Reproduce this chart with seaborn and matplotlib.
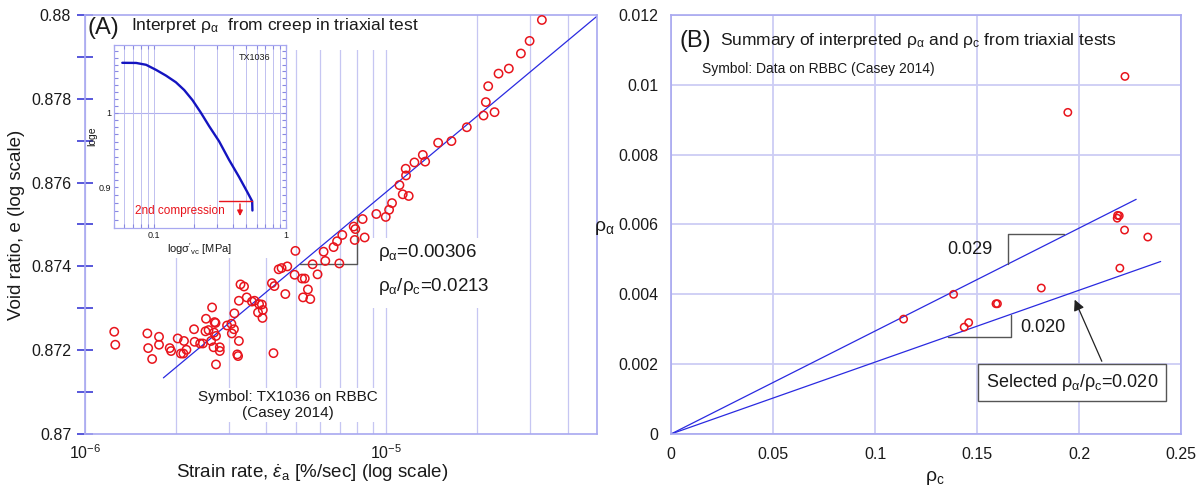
import seaborn as sns
import matplotlib.pyplot as plt
from matplotlib.patches import Rectangle
from matplotlib.ticker import AutoMinorLocator, NullFormatter, FixedLocator

# ---- panel A: void ratio vs strain rate (TX1036) ----
strain_rate = [
    1.25e-6, 1.26e-6, 1.61e-6, 1.62e-6, 1.67e-6, 1.76e-6, 1.76e-6, 1.91e-6, 1.93e-6, 2.03e-6,
    2.08e-6, 2.12e-6, 2.13e-6, 2.17e-6, 2.30e-6, 2.31e-6, 2.41e-6, 2.46e-6, 2.52e-6, 2.51e-6,
    2.57e-6, 2.64e-6, 2.62e-6, 2.69e-6, 2.71e-6, 2.68e-6, 2.72e-6, 2.67e-6, 2.80e-6, 2.80e-6,
    2.72e-6, 2.96e-6, 3.06e-6, 3.07e-6, 3.12e-6, 3.13e-6, 3.24e-6, 3.20e-6, 3.22e-6, 3.24e-6,
    3.28e-6, 3.37e-6, 3.44e-6, 3.58e-6, 3.65e-6, 3.75e-6, 3.78e-6, 3.86e-6, 3.89e-6, 3.88e-6,
    4.17e-6, 4.25e-6, 4.22e-6, 4.39e-6, 4.49e-6, 4.69e-6, 4.62e-6, 4.96e-6, 5.25e-6, 5.36e-6,
    5.49e-6, 5.29e-6, 5.59e-6, 4.99e-6, 5.69e-6, 5.91e-6, 6.27e-6, 6.19e-6, 6.98e-6, 6.68e-6,
    6.86e-6, 7.14e-6, 7.79e-6, 7.89e-6, 7.85e-6, 8.47e-6, 8.34e-6, 9.26e-6, 9.95e-6, 1.021e-5,
    1.044e-5, 1.105e-5, 1.133e-5, 1.186e-5, 1.159e-5, 1.162e-5, 1.239e-5, 1.321e-5, 1.345e-5, 1.485e-5,
    1.644e-5, 1.849e-5, 2.101e-5, 2.285e-5, 2.138e-5, 2.177e-5, 2.356e-5, 2.549e-5, 2.795e-5, 2.987e-5,
    3.281e-5,
]
void_ratio = [
    0.87244, 0.87213, 0.87240, 0.87205, 0.87179, 0.87232, 0.87213, 0.87205, 0.87198, 0.87228,
    0.87192, 0.87192, 0.87222, 0.87201, 0.87250, 0.87220, 0.87216, 0.87216, 0.87275, 0.87245,
    0.87248, 0.87302, 0.87222, 0.87267, 0.87265, 0.87242, 0.87234, 0.87207, 0.87207, 0.87198,
    0.87166, 0.87259, 0.87263, 0.87240, 0.87250, 0.87288, 0.87222, 0.87190, 0.87186, 0.87318,
    0.87357, 0.87352, 0.87326, 0.87316, 0.87318, 0.87290, 0.87310, 0.87309, 0.87296, 0.87277,
    0.87360, 0.87353, 0.87193, 0.87393, 0.87396, 0.87400, 0.87334, 0.87380, 0.87371, 0.87371,
    0.87345, 0.87326, 0.87322, 0.87437, 0.87405, 0.87381, 0.87413, 0.87435, 0.87407, 0.87446,
    0.87460, 0.87475, 0.87495, 0.87489, 0.87463, 0.87469, 0.87513, 0.87525, 0.87518, 0.87535,
    0.87551, 0.87594, 0.87572, 0.87568, 0.87633, 0.87617, 0.87648, 0.87666, 0.87650, 0.87695,
    0.87699, 0.87732, 0.87760, 0.87768, 0.87792, 0.87830, 0.87860, 0.87872, 0.87908, 0.87938,
    0.87988,
]
fit_rate = [1.82e-6, 4.98e-5]
fit_void = [0.87134, 0.87996]
void_ticks = [0.870, 0.872, 0.874, 0.876, 0.878, 0.880]
void_tick_labels = ["0.87", "0.872", "0.874", "0.876", "0.878", "0.88"]

# inset: compression curve (log e vs log sigma'vc)
inset_stress = [0.0578, 0.0736, 0.0875, 0.104, 0.1238, 0.147, 0.170, 0.1964, 0.227,
                0.2624, 0.312, 0.371, 0.4406, 0.509, 0.555, 0.5577]
inset_e = [1.0727, 1.0725, 1.0697, 1.0621, 1.0535, 1.0437, 1.0323, 1.0177, 1.000,
           0.9811, 0.9604, 0.9357, 0.9137, 0.8944, 0.8827, 0.8712]

# ---- panel B: rho_alpha vs rho_c ----
rho_c = [0.114, 0.1385, 0.1437, 0.1459, 0.1593, 0.1600, 0.1815, 0.1945, 0.2189, 0.2197,
         0.2187, 0.2200, 0.2223, 0.2225, 0.2337]
rho_a = [0.00329, 0.00400, 0.00306, 0.00319, 0.00373, 0.00373, 0.00418, 0.00921, 0.00626, 0.00625,
         0.00618, 0.00475, 0.00584, 0.01024, 0.00564]
line_hi_x = [0.0, 0.228]
line_hi_y = [0.0, 0.00672]
line_lo_x = [0.0, 0.240]
line_lo_y = [0.0, 0.00494]
rc_ticks = [0, 0.05, 0.1, 0.15, 0.2, 0.25]
rc_tick_labels = ["0", "0.05", "0.1", "0.15", "0.2", "0.25"]
ra_ticks = [0, 0.002, 0.004, 0.006, 0.008, 0.01, 0.012]
ra_tick_labels = ["0", "0.002", "0.004", "0.006", "0.008", "0.01", "0.012"]

sns.set_theme(style="white")
plt.rcParams['font.family'] = ['Liberation Sans', 'DejaVu Sans']
plt.rcParams['mathtext.fontset'] = 'custom'
plt.rcParams['mathtext.rm'] = 'Liberation Sans'
plt.rcParams['mathtext.it'] = 'Liberation Sans:italic'
plt.rcParams['mathtext.bf'] = 'Liberation Sans:bold'

RED = '#e8141c'
BLUE = '#2a2ae0'
GRID = '#c6c6f2'
SPINE = '#a8a8f0'
TXT = '#1a1a1a'

fig = plt.figure(figsize=(12.01, 4.98), dpi=100)

# ================= panel A =================
ax1 = fig.add_axes([0.0708, 0.1285, 0.4263, 0.8415])
sns.lineplot(x=fit_rate, y=fit_void, ax=ax1, color=BLUE, lw=0.9, zorder=2)
sns.scatterplot(x=strain_rate, y=void_ratio, ax=ax1, marker='o', s=36,
                facecolors='none', edgecolor=RED, linewidth=1.1, zorder=3)
ax1.set_xscale('log')
ax1.set_xlim(1e-6, 5e-5)
ax1.set_ylim(0.87, 0.88)
ax1.set_yticks(void_ticks, void_tick_labels)
ax1.yaxis.set_minor_locator(AutoMinorLocator(2))
ax1.xaxis.set_minor_formatter(NullFormatter())
ax1.tick_params(axis='y', which='both', direction='inout', length=12, width=1.3,
                color='#4a4ad8', left=True, labelsize=11.5, labelcolor=TXT, pad=4)
ax1.tick_params(axis='x', which='both', length=0, labelsize=11.5, labelcolor=TXT, pad=7)
ax1.grid(True, which='both', axis='x', color=GRID, lw=0.9)
for sp in ax1.spines.values():
    sp.set_color(SPINE)
    sp.set_linewidth(1.2)

ax1.set_xlabel(r'Strain rate, $\dot{\varepsilon}_\mathregular{a}$ [%/sec] (log scale)',
               fontsize=13.5, color=TXT)
ax1.xaxis.set_label_coords(0.443, -0.068)
ax1.set_ylabel('Void ratio, e (log scale)', fontsize=13.5, color=TXT)
ax1.yaxis.set_label_coords(-0.118, 0.5)

# white areas hiding the grid under the inset, title and notes
for (x0, y0, w, h) in [(0.12, 0.42, 0.285, 0.58), (0.12, 0.916, 0.53, 0.084),
                       (0.547, 0.301, 0.228, 0.167)]:
    ax1.add_patch(Rectangle((x0, y0), w, h, transform=ax1.transAxes,
                            fc='white', ec='none', zorder=1))

ax1.text(0.004, 0.969, '(A)', transform=ax1.transAxes, fontsize=17, va='center', color=TXT)
ax1.text(0.09, 0.974, r'Interpret $\mathregular{\rho_\alpha}$  from creep in triaxial test',
         transform=ax1.transAxes, fontsize=12.5, va='center', color=TXT)
ax1.text(0.396, 0.069, 'Symbol: TX1036 on RBBC\n(Casey 2014)', transform=ax1.transAxes,
         fontsize=11, ha='center', va='center', color=TXT, linespacing=1.25,
         bbox=dict(fc='white', ec='none', pad=1))
ax1.text(0.572, 0.434, r'$\mathregular{\rho_\alpha}$=0.00306', transform=ax1.transAxes,
         fontsize=13.5, va='center', color=TXT)
ax1.text(0.572, 0.351, r'$\mathregular{\rho_\alpha/\rho_c}$=0.0213', transform=ax1.transAxes,
         fontsize=13.5, va='center', color=TXT)
# slope bracket
ax1.plot([5.15e-6, 7.99e-6, 7.99e-6], [0.87405, 0.87405, 0.87520], color='#555555', lw=1, zorder=2)

# inset
axin = fig.add_axes([0.0949, 0.5422, 0.1432, 0.3675])
sns.lineplot(x=inset_stress, y=inset_e, ax=axin, color='#1414c0', lw=1.7, sort=False)
axin.set_xscale('log')
axin.set_yscale('log')
axin.set_xlim(0.05, 1)
axin.set_ylim(0.85, 1.10)
axin.set_xticks([0.1, 1], ['0.1', '1'])
axin.set_yticks([0.9, 1.0], ['0.9', '1'])
axin.yaxis.set_minor_locator(FixedLocator([0.86, 0.87, 0.88, 0.89, 0.91, 0.92, 0.93, 0.94, 0.95,
                                           0.96, 0.97, 0.98, 0.99, 1.01, 1.02, 1.03, 1.04,
                                           1.05, 1.06, 1.07, 1.08, 1.09]))
axin.yaxis.set_minor_formatter(NullFormatter())
axin.xaxis.set_minor_formatter(NullFormatter())
axin.tick_params(which='both', direction='in', length=3, width=0.8, color='#8888e0',
                 labelsize=6.5, labelcolor=TXT, pad=2, top=True, right=True, left=True, bottom=True)
axin.grid(True, which='both', axis='x', color='#c0c0f0', lw=0.7)
axin.axhline(1.0, color='#b0b0ee', lw=0.8, zorder=0.5)
for sp in axin.spines.values():
    sp.set_color(SPINE)
    sp.set_linewidth(0.9)
axin.set_xlabel(r"log$\mathregular{\sigma'_{vc}}$ [MPa]", fontsize=8, color=TXT, labelpad=1)
axin.set_ylabel('loge', fontsize=7.5, color=TXT, labelpad=1)
axin.text(0.818, 0.93, 'TX1036', transform=axin.transAxes, fontsize=6.5, ha='center',
          va='center', color=TXT)
axin.plot([0.31, 0.555], [0.8827, 0.8827], color=RED, lw=1)
axin.annotate('', xy=(0.449, 0.861), xytext=(0.449, 0.8827),
              arrowprops=dict(arrowstyle='-|>', color=RED, lw=1, mutation_scale=8))
axin.text(0.124, 0.094, '2nd compression', transform=axin.transAxes, fontsize=8.5,
          color=RED, va='center')

# ================= panel B =================
ax2 = fig.add_axes([0.5587, 0.1285, 0.4247, 0.8415])
sns.lineplot(x=line_hi_x, y=line_hi_y, ax=ax2, color=BLUE, lw=0.9, zorder=2)
sns.lineplot(x=line_lo_x, y=line_lo_y, ax=ax2, color=BLUE, lw=0.9, zorder=2)
sns.scatterplot(x=rho_c, y=rho_a, ax=ax2, marker='o', s=28,
                facecolors='none', edgecolor=RED, linewidth=1.1, zorder=3)
ax2.set_xlim(0, 0.25)
ax2.set_ylim(0, 0.012)
ax2.set_xticks(rc_ticks, rc_tick_labels)
ax2.set_yticks(ra_ticks, ra_tick_labels)
ax2.tick_params(length=0, labelsize=11.5, labelcolor=TXT, pad=9)
ax2.grid(True, color='#cdcdf4', lw=1.3)
for sp in ax2.spines.values():
    sp.set_color(SPINE)
    sp.set_linewidth(1.2)
ax2.set_xlabel(r'$\mathregular{\rho_c}$', fontsize=14, color=TXT)
ax2.xaxis.set_label_coords(0.518, -0.083)
ax2.set_ylabel(r'$\mathregular{\rho_\alpha}$', fontsize=14, color=TXT, rotation=0)
ax2.yaxis.set_label_coords(-0.13, 0.47)

ax2.text(0.016, 0.938, '(B)', transform=ax2.transAxes, fontsize=17, va='center', color=TXT)
ax2.text(0.096, 0.938, r'Summary of interpreted $\mathregular{\rho_\alpha}$ and $\mathregular{\rho_c}$ from triaxial tests',
         transform=ax2.transAxes, fontsize=12.5, va='center', color=TXT)
ax2.text(0.061, 0.872, 'Symbol: Data on RBBC (Casey 2014)', transform=ax2.transAxes,
         fontsize=10, va='center', color=TXT)

# slope brackets
ax2.plot([0.165, 0.165, 0.1928], [0.00486, 0.00572, 0.00572], color='#555555', lw=1)
ax2.plot([0.136, 0.1667, 0.1667], [0.00279, 0.00279, 0.00340], color='#555555', lw=1)
ax2.text(0.1466, 0.00528, '0.029', fontsize=13, ha='center', va='center', color=TXT)
ax2.text(0.1823, 0.00306, '0.020', fontsize=13, ha='center', va='center', color=TXT)
ax2.annotate('', xy=(0.1973, 0.00392), xytext=(0.2117, 0.00201),
             arrowprops=dict(arrowstyle='-|>', color='#222222', lw=0.9, mutation_scale=16))
ax2.text(0.1965, 0.00148, r'Selected $\mathregular{\rho_\alpha/\rho_c}$=0.020', fontsize=13,
         ha='center', va='center', color=TXT,
         bbox=dict(boxstyle='square,pad=0.45', fc='white', ec='#555555', lw=1))

fig.savefig('out.png', dpi=100)
